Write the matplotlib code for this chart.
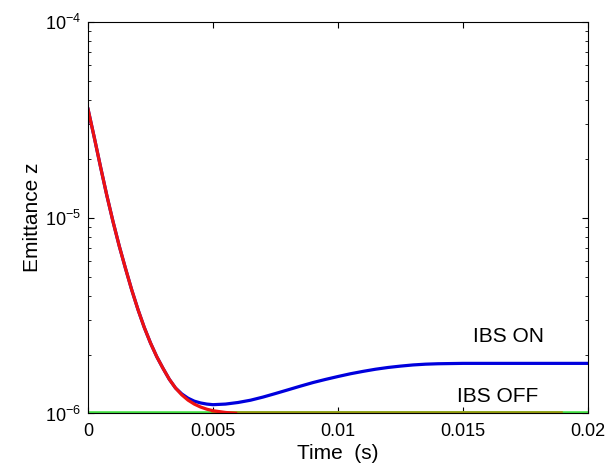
import matplotlib
matplotlib.use("Agg")
import matplotlib.pyplot as plt
import matplotlib.ticker as mticker

plt.rcParams["font.family"] = ["Liberation Sans", "DejaVu Sans"]
plt.rcParams["mathtext.fontset"] = "custom"
plt.rcParams["mathtext.rm"] = "Liberation Sans"

# time in seconds, emittance values
t_off = [0, 0.00025, 0.0005, 0.00075, 0.001, 0.00125, 0.0015, 0.00175,
         0.002, 0.00225, 0.0025, 0.00275, 0.003, 0.00325, 0.0035, 0.00375,
         0.004, 0.00425, 0.0045, 0.00475, 0.005, 0.0055, 0.0059]
emit_off = [3.589e-5, 2.570e-5, 1.820e-5, 1.303e-5, 9.55e-6, 7.16e-6, 5.50e-6, 4.27e-6,
            3.39e-6, 2.75e-6, 2.29e-6, 1.95e-6, 1.70e-6, 1.496e-6, 1.349e-6, 1.245e-6,
            1.17e-6, 1.117e-6, 1.079e-6, 1.052e-6, 1.033e-6, 1.012e-6, 1.002e-6]

t_on = [0, 0.00025, 0.0005, 0.00075, 0.001, 0.00125, 0.0015, 0.00175,
        0.002, 0.00225, 0.0025, 0.00275, 0.003, 0.00325, 0.0035, 0.00375,
        0.004, 0.00425, 0.0045, 0.00475, 0.005, 0.0055, 0.006, 0.0065,
        0.007, 0.0075, 0.008, 0.0085, 0.009, 0.0095, 0.010, 0.0105,
        0.011, 0.0115, 0.012, 0.0125, 0.013, 0.0135, 0.014, 0.015, 0.020]
emit_on = [3.589e-5, 2.570e-5, 1.820e-5, 1.303e-5, 9.55e-6, 7.16e-6, 5.50e-6, 4.27e-6,
           3.39e-6, 2.75e-6, 2.29e-6, 1.95e-6, 1.70e-6, 1.496e-6, 1.349e-6, 1.259e-6,
           1.197e-6, 1.156e-6, 1.132e-6, 1.117e-6, 1.109e-6, 1.117e-6, 1.138e-6, 1.169e-6,
           1.213e-6, 1.265e-6, 1.321e-6, 1.380e-6, 1.439e-6, 1.493e-6, 1.545e-6, 1.596e-6,
           1.641e-6, 1.683e-6, 1.718e-6, 1.746e-6, 1.770e-6, 1.786e-6, 1.795e-6, 1.803e-6,
           1.803e-6]

# equilibrium lines
t_eq = [0, 0.02]
emit_eq = [1e-6, 1e-6]
t_eq2 = [0.005, 0.0189]
emit_eq2 = [1e-6, 1e-6]

fig = plt.figure(figsize=(6.16, 4.67), dpi=100)
ax = fig.add_axes([0.1429, 0.1146, 0.8117, 0.8383])

ax.plot(t_eq, emit_eq, color="#44e044", lw=2.6)
ax.plot(t_eq2, emit_eq2, color="#9a9a10", lw=2.6)
ax.plot(t_on, emit_on, color="#0000dd", lw=2.3)
ax.plot(t_off, emit_off, color="#ee1111", lw=2.3)

ax.set_yscale("log")
ax.set_xlim(0, 0.02)
ax.set_ylim(1e-6, 1e-4)
ax.set_xticks([0, 0.005, 0.01, 0.015, 0.02])
ax.set_xticklabels(["0", "0.005", "0.01", "0.015", "0.02"])
ax.xaxis.set_minor_locator(mticker.NullLocator())
ax.tick_params(which="both", direction="in", top=True, right=True)
ax.tick_params(which="major", length=4, labelsize=13, pad=7)
ax.tick_params(which="minor", length=2.5)
ax.tick_params(axis="y", labelsize=13, pad=5)

ax.text(0.0168, 2.47e-6, "IBS ON", fontsize=15, ha="center", va="center")
ax.text(0.0164, 1.22e-6, "IBS OFF", fontsize=15, ha="center", va="center")

ax.set_xlabel("Time  (s)", fontsize=15, labelpad=3)
ax.set_ylabel("Emittance z", fontsize=15, labelpad=2)

fig.savefig("out.png", dpi=100)
